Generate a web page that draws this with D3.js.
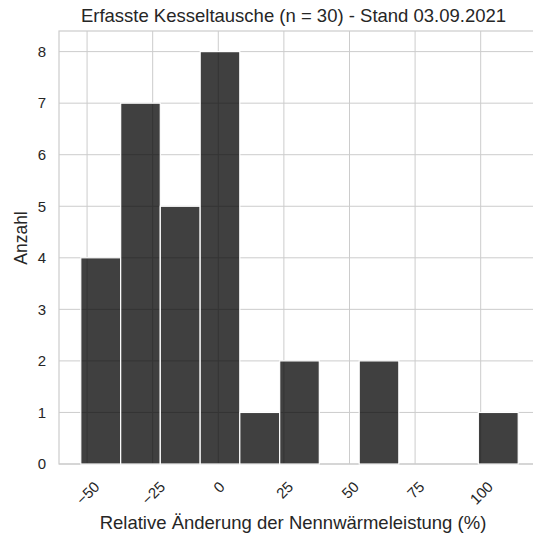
<!DOCTYPE html>
<html>
<head>
<meta charset="utf-8">
<script src="https://cdn.jsdelivr.net/npm/d3@7"></script>
<style>
  body { margin: 0; background: #fff; }
  text { font-family: "Liberation Sans", Arial, sans-serif; fill: #262626; }
</style>
</head>
<body>
<div id="chart"></div>
<script>
// histogram bins (lower / upper edge in %) and counts
var binEdges = [-52.4, -37.2, -22.1, -6.9, 8.2, 23.4, 38.5, 53.7, 68.8, 84.0, 99.1, 114.3];
var binCounts = [4, 7, 5, 8, 1, 2, 0, 2, 0, 0, 1];
var xTicks = [-50, -25, 0, 25, 50, 75, 100];
var yTicks = [0, 1, 2, 3, 4, 5, 6, 7, 8];

var titleText = 'Erfasste Kesseltausche (n = 30) - Stand 03.09.2021';
var xLabel = 'Relative Änderung der Nennwärmeleistung (%)';
var yLabel = 'Anzahl';

var W = 533, H = 535;
var margin = {top: 31, right: -7, bottom: 71, left: 59};
var width = W - margin.left - margin.right,
    height = H - margin.top - margin.bottom;

var bins = binCounts.map(function(c, i) {
    return {x0: binEdges[i], x1: binEdges[i + 1], count: c};
});

var svg = d3.select('#chart').append('svg')
    .attr('width', W)
    .attr('height', H);

var g = svg.append('g')
    .attr('transform', 'translate(' + margin.left + ',' + margin.top + ')');

var x = d3.scaleLinear()
    .domain([-60.7, 122.6])
    .range([0, width]);

var y = d3.scaleLinear()
    .domain([0, 8.4])
    .range([height, 0]);

// grid
g.selectAll('.vgrid')
    .data(xTicks)
    .enter().append('line')
    .attr('class', 'vgrid')
    .attr('x1', function(d) { return x(d); })
    .attr('x2', function(d) { return x(d); })
    .attr('y1', 0)
    .attr('y2', height)
    .style('stroke', '#cccccc')
    .style('stroke-width', 1);

g.selectAll('.hgrid')
    .data(yTicks)
    .enter().append('line')
    .attr('class', 'hgrid')
    .attr('x1', 0)
    .attr('x2', width)
    .attr('y1', function(d) { return y(d); })
    .attr('y2', function(d) { return y(d); })
    .style('stroke', '#cccccc')
    .style('stroke-width', 1);

// frame
g.append('rect')
    .attr('x', 0)
    .attr('y', 0)
    .attr('width', width)
    .attr('height', height)
    .style('fill', 'none')
    .style('stroke', '#cccccc')
    .style('stroke-width', 1.2);

// bars
g.selectAll('.bar')
    .data(bins.filter(function(d) { return d.count > 0; }))
    .enter().append('rect')
    .attr('class', 'bar')
    .attr('x', function(d) { return x(d.x0); })
    .attr('width', function(d) { return x(d.x1) - x(d.x0); })
    .attr('y', function(d) { return y(d.count); })
    .attr('height', function(d) { return y(0) - y(d.count); })
    .style('fill', '#000')
    .style('fill-opacity', 0.75)
    .style('stroke', '#fff')
    .style('stroke-width', 1.2);

// axes (no tick marks, seaborn whitegrid look)
var xAxis = g.append('g')
    .attr('transform', 'translate(0,' + height + ')')
    .call(d3.axisBottom(x).tickValues(xTicks).tickSize(0).tickFormat(function(d) {
        return d < 0 ? '\u2212' + Math.abs(d) : d;
    }));
xAxis.select('.domain').remove();
xAxis.selectAll('text')
    .style('font-size', '15px')
    .attr('text-anchor', 'middle')
    .attr('dy', null)
    .attr('y', null)
    .attr('dominant-baseline', 'central')
    .attr('transform', function() {
        // rotated label hangs below the axis with its bbox top at a fixed pad
        var w = this.getComputedTextLength();
        var off = 16 + (w + 11) * Math.SQRT1_2 / 2;
        return 'translate(0,' + off + ') rotate(-45)';
    });

var yAxis = g.append('g')
    .call(d3.axisLeft(y).tickValues(yTicks).tickSize(0).tickPadding(13));
yAxis.select('.domain').remove();
yAxis.selectAll('text')
    .style('font-size', '15px');

// labels
svg.append('text')
    .attr('x', 293.5)
    .attr('y', 22)
    .attr('text-anchor', 'middle')
    .style('font-size', '18.5px')
    .text(titleText);

svg.append('text')
    .attr('x', 293)
    .attr('y', 529)
    .attr('text-anchor', 'middle')
    .style('font-size', '18.5px')
    .text(xLabel);

svg.append('text')
    .attr('transform', 'translate(27,238) rotate(-90)')
    .attr('text-anchor', 'middle')
    .style('font-size', '17.5px')
    .text(yLabel);
</script>
</body>
</html>
